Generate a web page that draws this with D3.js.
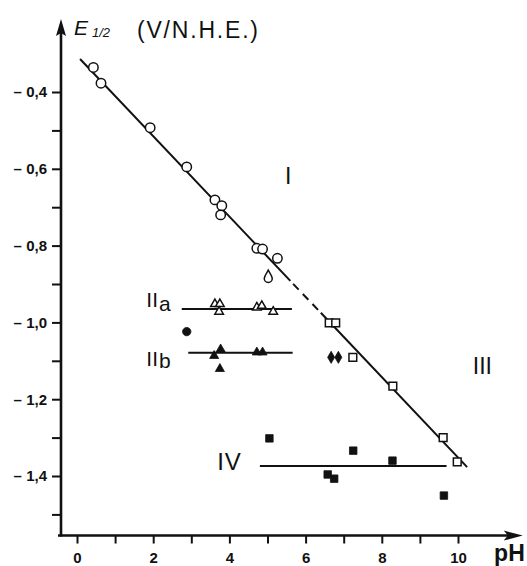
<!DOCTYPE html>
<html>
<head>
<meta charset="utf-8">
<script src="https://cdn.jsdelivr.net/npm/d3@7/dist/d3.min.js"></script>
<style>
  body { margin: 0; background: #fff; }
  svg { display: block; }
  text { font-family: "Liberation Sans", Arial, sans-serif; fill: #111; }
</style>
</head>
<body>
<svg id="chart"></svg>
<script>

// values, each point is [pH, E1/2 in V]
var openCircles = [[0.43,-0.336],[0.63,-0.377],[1.92,-0.493],[2.88,-0.595],[3.62,-0.681],
                   [3.80,-0.696],[3.77,-0.720],[4.72,-0.807],[4.87,-0.809],[5.26,-0.833]];
var dropPoint = [[5.02,-0.881]];
var openTriangles = [[3.62,-0.952],[3.75,-0.952],[3.73,-0.972],[4.72,-0.961],[4.85,-0.957],[5.15,-0.972]];
var filledCircle = [[2.88,-1.024]];
var filledTriangles = [[3.60,-1.087],[3.77,-1.070],[3.75,-1.121],[4.72,-1.078],[4.87,-1.078]];
var openSquares = [[6.62,-1.001],[6.79,-1.001],[7.24,-1.091],[8.29,-1.166],[9.61,-1.300],[9.98,-1.363]];
var filledDiamonds = [[6.67,-1.091],[6.86,-1.091]];
var filledSquares = [[5.05,-1.302],[7.25,-1.334],[8.28,-1.360],[6.58,-1.396],[6.75,-1.407],[9.63,-1.451]];

// fitted lines
var lineISolidA = [[0.08,-0.314],[5.60,-0.892]];
var lineIDashed = [[5.60,-0.892],[6.40,-0.975]];
var lineISolidB = [[6.40,-0.975],[10.24,-1.377]];
var lineIIa = [[2.75,-0.965],[5.64,-0.965]];
var lineIIb = [[2.92,-1.079],[5.66,-1.079]];
var lineIV = [[4.80,-1.374],[9.70,-1.374]];

// axes
var xMajor = [0, 2, 4, 6, 8, 10];
var xMinor = [1, 3, 5, 7, 9];
var yMajor = [-0.4, -0.6, -0.8, -1.0, -1.2, -1.4];
var yMinor = [-0.5, -0.7, -0.9, -1.1, -1.3, -1.5];

var width = 527, height = 566;

var svg = d3.select("#chart")
    .attr("width", width)
    .attr("height", height);

var x = d3.scaleLinear().domain([0, 10]).range([77, 458]);
var y = d3.scaleLinear().domain([-0.4, -1.4]).range([92, 476]);

var xCross = -0.42, yCross = -1.555;   // where the two axes meet
var xEnd = 11.7, yEnd = -0.21;         // arrow tips

var x0 = x(xCross), y0 = y(yCross);

// axis lines with arrows
svg.append("line")
    .attr("x1", x0).attr("y1", y0 + 1)
    .attr("x2", x0).attr("y2", y(yEnd) + 10)
    .attr("stroke", "#111").attr("stroke-width", 2.6);
svg.append("line")
    .attr("x1", x0 - 3).attr("y1", y0)
    .attr("x2", x(xEnd) - 12).attr("y2", y0)
    .attr("stroke", "#111").attr("stroke-width", 2.6);

svg.append("path")
    .attr("d", "M" + x0 + "," + y(yEnd) + "L" + (x0 + 5) + "," + (y(yEnd) + 17) +
               "L" + x0 + "," + (y(yEnd) + 14) + "L" + (x0 - 5) + "," + (y(yEnd) + 17) + "Z")
    .attr("fill", "#111");
svg.append("path")
    .attr("d", "M" + x(xEnd) + "," + y0 + "L" + (x(xEnd) - 19) + "," + (y0 - 5) +
               "L" + (x(xEnd) - 15) + "," + y0 + "L" + (x(xEnd) - 19) + "," + (y0 + 5) + "Z")
    .attr("fill", "#111");

// y ticks
var yAxis = svg.append("g")
    .attr("transform", "translate(" + x0 + ",0)")
    .call(d3.axisLeft(y).tickValues(yMajor).tickSize(9).tickPadding(5)
      .tickFormat(function(d) { return "\u2013 " + Math.abs(d).toFixed(1).replace(".", ","); }));
yAxis.select(".domain").remove();
yAxis.selectAll("line").attr("stroke", "#111").attr("stroke-width", 2);
yAxis.selectAll("text").style("font-size", "15px").style("font-weight", "bold")
    .style("font-family", "'Liberation Sans', Arial, sans-serif").attr("fill", "#111");

var yAxisMinor = svg.append("g")
    .attr("transform", "translate(" + x0 + ",0)")
    .call(d3.axisLeft(y).tickValues(yMinor).tickSize(9).tickFormat(""));
yAxisMinor.select(".domain").remove();
yAxisMinor.selectAll("line").attr("stroke", "#111").attr("stroke-width", 2);

// x ticks
var xAxis = svg.append("g")
    .attr("transform", "translate(0," + y0 + ")")
    .call(d3.axisBottom(x).tickValues(xMajor).tickSize(8).tickPadding(9));
xAxis.select(".domain").remove();
xAxis.selectAll("line").attr("stroke", "#111").attr("stroke-width", 2);
xAxis.selectAll("text").style("font-size", "15px").style("font-weight", "bold")
    .style("font-family", "'Liberation Sans', Arial, sans-serif").attr("fill", "#111");

var xAxisMinor = svg.append("g")
    .attr("transform", "translate(0," + y0 + ")")
    .call(d3.axisBottom(x).tickValues(xMinor).tickSize(8).tickFormat(""));
xAxisMinor.select(".domain").remove();
xAxisMinor.selectAll("line").attr("stroke", "#111").attr("stroke-width", 2);

// axis titles
var yTitle = svg.append("text")
    .attr("x", x0 + 13).attr("y", 35)
    .style("font-size", "21px");
yTitle.append("tspan").style("font-style", "italic").text("E");
yTitle.append("tspan").attr("dx", 4).attr("dy", 2).style("font-size", "13px")
    .style("font-style", "italic").text("1/2");
svg.append("text")
    .attr("x", 137).attr("y", 38)
    .style("font-size", "23px").style("letter-spacing", "1.8px")
    .text("(V/N.H.E.)");

svg.append("text")
    .attr("x", x(xEnd) + 2).attr("y", 561)
    .attr("text-anchor", "end")
    .style("font-size", "23px").style("font-weight", "bold")
    .text("pH");

// lines
var line = d3.line()
    .x(function(d) { return x(d[0]); })
    .y(function(d) { return y(d[1]); });

[lineISolidA, lineISolidB, lineIIa, lineIIb, lineIV].forEach(function(l) {
  svg.append("path").attr("d", line(l))
      .attr("fill", "none").attr("stroke", "#111").attr("stroke-width", 2);
});
svg.append("path").attr("d", line(lineIDashed))
    .attr("fill", "none").attr("stroke", "#111").attr("stroke-width", 2)
    .attr("stroke-dasharray", "8,6").attr("stroke-dashoffset", -4);

// markers
function drawPoints(data, type, size, filled) {
  svg.selectAll(null)
      .data(data)
    .enter().append("path")
      .attr("transform", function(d) { return "translate(" + x(d[0]) + "," + y(d[1]) + ")"; })
      .attr("d", d3.symbol().type(type).size(size))
      .attr("fill", filled ? "#111" : "#fff")
      .attr("stroke", "#111")
      .attr("stroke-width", filled ? 0.8 : 1.5);
}

drawPoints(openCircles, d3.symbolCircle, 70, false);
drawPoints(openSquares, d3.symbolSquare, 60, false);
drawPoints(openTriangles, d3.symbolTriangle, 32, false);
drawPoints(filledTriangles, d3.symbolTriangle, 36, true);
drawPoints(filledCircle, d3.symbolCircle, 55, true);
drawPoints(filledSquares, d3.symbolSquare, 56, true);
drawPoints(filledDiamonds, d3.symbolDiamond, 42, true);

// drop shaped point
svg.selectAll(null)
    .data(dropPoint)
  .enter().append("path")
    .attr("transform", function(d) { return "translate(" + x(d[0]) + "," + y(d[1]) + ")"; })
    .attr("d", "M0,-6.5C1.5,-3.5 4,-1 4,1.8A4,4 0 0 1 -4,1.8C-4,-1 -1.5,-3.5 0,-6.5Z")
    .attr("fill", "#fff").attr("stroke", "#111").attr("stroke-width", 1.5);

// region labels
svg.append("text").attr("x", x(5.54)).attr("y", y(-0.64))
    .attr("text-anchor", "middle").style("font-size", "23px").text("I");
svg.append("text").attr("x", x(10.64)).attr("y", y(-1.134))
    .attr("text-anchor", "middle").style("font-size", "23px").text("III");
svg.append("text").attr("x", x(3.68)).attr("y", y(-1.384))
    .style("font-size", "24px").style("letter-spacing", "1px").text("IV");

var labIIa = svg.append("text").attr("x", x(1.82)).attr("y", y(-0.96))
    .style("font-size", "21px");
labIIa.append("tspan").text("II");
labIIa.append("tspan").attr("dx", 1).attr("dy", 4).text("a");

var labIIb = svg.append("text").attr("x", x(1.82)).attr("y", y(-1.113))
    .style("font-size", "21px");
labIIb.append("tspan").text("II");
labIIb.append("tspan").attr("dx", 1).attr("dy", 2).text("b");

</script>
</body>
</html>
